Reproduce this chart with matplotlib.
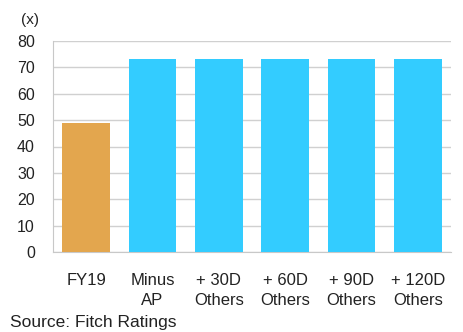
import matplotlib.pyplot as plt

categories = ["FY19", "Minus\nAP", "+ 30D\nOthers", "+ 60D\nOthers", "+ 90D\nOthers", "+ 120D\nOthers"]
values = [49, 73, 73, 73, 73, 73]
colors = ["#E3A64E", "#33CCFF", "#33CCFF", "#33CCFF", "#33CCFF", "#33CCFF"]
yticks = [0, 10, 20, 30, 40, 50, 60, 70, 80]

plt.rcParams["font.family"] = ["Liberation Sans", "DejaVu Sans"]

fig = plt.figure(figsize=(4.64, 3.32), dpi=100)
ax = fig.add_axes([53 / 464, 1 - 252 / 332, (451 - 53) / 464, (252 - 41) / 332])

x = range(len(categories))
ax.bar(x, values, width=0.72, color=colors, zorder=3)

ax.set_xlim(-0.5, len(categories) - 0.5)
ax.set_ylim(0, 80)
ax.set_yticks(yticks)
ax.set_xticks(list(x))
ax.set_xticklabels(categories, fontsize=12, color="#222222", linespacing=1.4, va="top")
ax.tick_params(axis="y", labelsize=11.5, colors="#222222", length=0, pad=13)
ax.tick_params(axis="x", length=0, pad=15)
ax.grid(axis="y", color="#D0D0D0", linewidth=1, zorder=0)

for s in ["top", "right"]:
    ax.spines[s].set_visible(False)
ax.spines["left"].set_color("#C8C8C8")
ax.spines["bottom"].set_color("#C8C8C8")

fig.text(30 / 464, 1 - 20 / 332, "(x)", fontsize=11, color="#222222", ha="center", va="center")
fig.text(10 / 464, 1 - 322 / 332, "Source: Fitch Ratings", fontsize=12.5, color="#222222", ha="left", va="center")

fig.savefig("out.png", dpi=100)
